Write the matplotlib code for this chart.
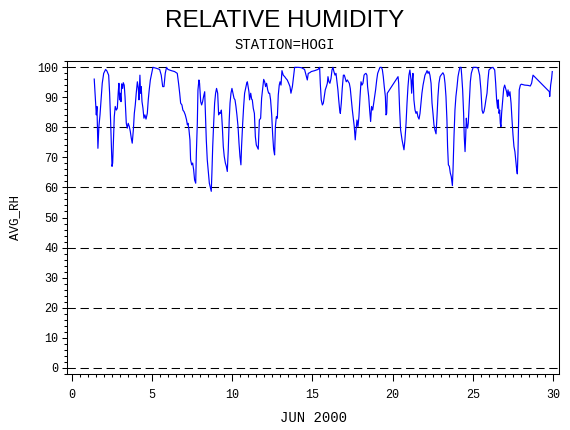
import matplotlib
matplotlib.use("Agg")
import matplotlib.pyplot as plt
from matplotlib.ticker import MultipleLocator

# hourly-ish relative humidity, station HOGI, June 2000
day = [
    1.39, 1.50, 1.52, 1.56, 1.62, 1.68, 1.75, 1.83, 1.89, 1.98,
    2.10, 2.18, 2.29, 2.35, 2.41, 2.50, 2.54, 2.58, 2.64, 2.70,
    2.77, 2.83, 2.89, 2.93, 2.97, 3.01, 3.06, 3.10, 3.16, 3.20,
    3.26, 3.31, 3.39, 3.45, 3.51, 3.58, 3.64, 3.70, 3.76, 3.83,
    3.89, 3.95, 4.01, 4.08, 4.14, 4.18, 4.24, 4.28, 4.32, 4.37,
    4.43, 4.49, 4.55, 4.62, 4.70, 4.76, 4.82, 4.89, 4.95, 5.05,
    5.26, 5.47, 5.57, 5.66, 5.74, 5.82, 5.90,
    5.99, 6.20, 6.40, 6.57, 6.65, 6.72, 6.78, 6.86, 6.92, 6.99,
    7.07, 7.15, 7.20, 7.24, 7.30, 7.36, 7.40, 7.47, 7.53, 7.59,
    7.65, 7.72, 7.76, 7.82, 7.86, 7.92, 7.96, 8.03, 8.09, 8.15,
    8.21, 8.28, 8.32, 8.38, 8.44, 8.51, 8.57, 8.63, 8.69, 8.73,
    8.78, 8.84, 8.90, 8.96, 9.02, 9.09, 9.15, 9.21, 9.27, 9.32,
    9.38, 9.44, 9.50, 9.57, 9.63, 9.69, 9.75, 9.81, 9.86, 9.92,
    9.98, 10.04, 10.11, 10.17, 10.23, 10.29, 10.36, 10.42, 10.48, 10.54,
    10.58, 10.65, 10.71, 10.77, 10.83, 10.90, 10.94,
    11.04, 11.08, 11.15, 11.21, 11.25, 11.31, 11.38, 11.44, 11.50, 11.56,
    11.62, 11.69, 11.77, 11.83, 11.90, 11.96, 12.02, 12.08, 12.14, 12.21,
    12.27, 12.33, 12.39, 12.46, 12.52, 12.58, 12.64, 12.69, 12.75, 12.81,
    12.87, 12.93, 12.98, 13.04, 13.10, 13.18, 13.27, 13.35, 13.43, 13.52,
    13.60, 13.66, 13.75, 13.83, 13.89, 14.10, 14.31, 14.51, 14.60, 14.68,
    14.74, 14.83, 14.93, 15.14, 15.35, 15.45, 15.49, 15.55, 15.62, 15.68,
    15.74, 15.80, 15.87, 15.93,
    15.97, 16.03, 16.09, 16.16, 16.22, 16.28, 16.34, 16.41, 16.47, 16.53,
    16.59, 16.64, 16.70, 16.74, 16.80, 16.86, 16.93, 16.99, 17.05, 17.11,
    17.18, 17.24, 17.30, 17.36, 17.43, 17.49, 17.55, 17.61, 17.67, 17.72,
    17.78, 17.84, 17.90, 17.97, 18.03, 18.09, 18.15, 18.22, 18.28, 18.34,
    18.40, 18.44, 18.51, 18.57, 18.63, 18.69, 18.76, 18.82, 18.88, 18.94,
    19.01, 19.07, 19.15, 19.21, 19.30, 19.36, 19.42, 19.48, 19.55, 19.59,
    19.63, 19.67, 20.34, 20.38, 20.44, 20.50, 20.59, 20.65, 20.71, 20.77,
    20.84, 20.90, 20.96,
    21.02, 21.08, 21.15, 21.19, 21.23, 21.27, 21.33, 21.40, 21.46, 21.52,
    21.58, 21.65, 21.71, 21.77, 21.83, 21.90, 21.96, 22.02, 22.08, 22.15,
    22.21, 22.27, 22.33, 22.40, 22.46, 22.52, 22.58, 22.64, 22.71, 22.77,
    22.83, 22.89, 22.96, 23.02, 23.08, 23.14, 23.21, 23.27, 23.33, 23.39,
    23.43, 23.48, 23.54, 23.60, 23.66, 23.73, 23.77, 23.83, 23.89, 23.95,
    24.02, 24.08, 24.14, 24.20, 24.27, 24.31, 24.37, 24.43, 24.47, 24.52,
    24.56, 24.60, 24.64, 24.68, 24.72, 24.79, 24.85, 24.91, 24.97, 25.03,
    25.22, 25.33, 25.43, 25.51, 25.58, 25.64, 25.70, 25.76, 25.82, 25.89,
    25.95,
    26.01, 26.12, 26.26, 26.37, 26.43, 26.49, 26.55, 26.59, 26.64, 26.68,
    26.72, 26.76, 26.80, 26.87, 26.93, 26.99, 27.05, 27.11, 27.16, 27.20,
    27.26, 27.32, 27.39, 27.45, 27.51, 27.57, 27.63, 27.70, 27.74, 27.78,
    27.82, 27.86, 27.90, 27.97, 28.03, 28.24, 28.45, 28.59, 28.67, 28.76,
    29.78, 29.80, 29.86, 29.92, 29.96,
]
avg_rh = [
    96.0, 85.7, 84.1, 86.9, 73.0, 80.2, 84.1, 90.2, 94.6, 97.9,
    99.2, 98.7, 97.3, 91.3, 82.4, 67.0, 68.1, 74.7, 83.5, 86.9,
    85.7, 86.3, 91.8, 94.6, 89.1, 91.3, 88.5, 94.4, 92.9, 94.8,
    94.0, 90.2, 81.3, 79.7, 81.3, 80.2, 78.6, 76.4, 74.7, 79.1,
    84.6, 87.4, 91.3, 95.1, 92.9, 89.1, 97.3, 91.3, 93.5, 88.5,
    86.3, 83.0, 84.1, 82.7, 84.6, 89.1, 92.4, 95.7, 97.3, 99.9,
    99.6, 99.2, 97.3, 93.5, 93.5, 97.9, 99.9,
    99.2, 98.8, 98.5, 97.9, 94.6, 91.3, 88.0, 87.4, 85.7, 85.2,
    84.1, 82.4, 80.8, 81.3, 79.1, 75.8, 69.2, 67.5, 68.1, 65.9,
    62.5, 61.4, 71.4, 81.3, 92.4, 95.7, 94.6, 88.5, 87.4, 88.5,
    90.2, 91.8, 85.7, 75.8, 69.2, 64.8, 61.4, 60.1, 58.7, 64.8,
    73.6, 81.3, 88.0, 91.3, 92.9, 91.3, 84.1, 84.9, 84.6, 85.7,
    80.2, 73.6, 70.3, 68.1, 67.0, 65.3, 72.5, 82.4, 88.0, 91.3,
    92.9, 91.3, 89.6, 89.1, 86.9, 84.1, 80.2, 74.7, 70.3, 67.5,
    73.6, 81.3, 86.9, 91.3, 92.9, 94.6, 95.1,
    91.8, 89.1, 91.3, 89.3, 89.1, 86.3, 84.6, 76.9, 74.1, 73.4,
    72.7, 82.4, 83.0, 89.6, 92.9, 95.9, 95.1, 93.5, 94.6, 92.4,
    91.3, 91.3, 89.1, 84.1, 77.5, 72.7, 70.8, 80.2, 83.5, 83.0,
    90.7, 94.0, 95.1, 94.0, 98.8, 97.3, 96.8, 96.2, 95.7, 94.6,
    93.5, 91.3, 93.5, 97.3, 99.9, 99.9, 99.8, 99.2, 97.3, 95.7,
    97.9, 98.1, 98.5, 98.8, 99.2, 99.9, 94.6, 89.1, 87.4, 88.0,
    90.2, 92.4, 93.5, 94.6,
    96.8, 95.1, 94.6, 96.2, 99.0, 99.9, 98.5, 97.3, 97.9, 95.1,
    92.4, 89.1, 85.7, 84.6, 88.0, 92.9, 97.3, 97.3, 96.2, 95.1,
    95.7, 95.1, 94.6, 92.9, 89.1, 85.7, 83.0, 80.2, 75.8, 79.1,
    82.4, 80.2, 83.5, 90.2, 95.1, 94.0, 94.6, 97.3, 97.7, 97.9,
    97.3, 93.5, 90.2, 85.7, 81.9, 86.9, 85.7, 88.0, 90.2, 92.4,
    95.7, 97.9, 99.0, 99.9, 99.9, 99.2, 96.8, 93.5, 90.2, 84.1,
    84.6, 91.3, 96.8, 94.6, 85.7, 79.1, 75.8, 74.1, 72.5, 75.8,
    81.3, 88.0, 93.5,
    97.3, 99.0, 95.7, 91.3, 95.7, 97.9, 89.1, 85.7, 84.6, 85.2,
    83.5, 82.7, 84.6, 88.0, 91.3, 94.0, 95.7, 97.3, 97.9, 98.8,
    97.9, 98.5, 97.3, 94.6, 88.0, 84.6, 80.8, 79.1, 77.8, 83.5,
    90.2, 94.6, 96.8, 97.3, 97.7, 98.1, 97.3, 94.6, 90.2, 82.4,
    73.6, 67.5, 67.0, 64.8, 63.6, 60.6, 65.9, 76.9, 85.7, 90.2,
    93.5, 96.8, 98.5, 99.9, 99.9, 97.3, 92.4, 84.6, 76.9, 71.9,
    76.9, 83.0, 80.2, 79.7, 81.3, 89.1, 95.1, 97.9, 99.0, 99.9,
    99.9, 99.6, 97.3, 92.4, 85.7, 84.6, 85.2, 86.9, 89.1, 91.3,
    95.7,
    99.0, 99.6, 99.9, 99.0, 94.6, 89.1, 86.3, 89.1, 84.6, 85.7,
    81.3, 80.2, 84.6, 89.1, 92.9, 94.0, 92.9, 91.8, 90.2, 92.4,
    90.4, 91.8, 88.0, 82.4, 77.5, 73.6, 71.9, 68.1, 65.9, 64.5,
    71.4, 82.4, 92.4, 94.0, 94.3, 94.0, 93.9, 93.7, 94.6, 97.3,
    91.8, 90.2, 94.0, 96.2, 98.5,
]

ref_levels = [0, 20, 40, 60, 80, 100]
x_ticks = [0, 5, 10, 15, 20, 25, 30]
y_ticks = list(range(0, 101, 10))

mono = ["Liberation Mono", "DejaVu Sans Mono"]

fig = plt.figure(figsize=(5.7, 4.3), dpi=100)
ax = fig.add_axes([0.1175, 0.1302, 0.8632, 0.7279])

for lev in ref_levels:
    ax.axhline(lev, color="black", lw=0.75, ls=(0, (8, 4.5)), zorder=1)

ax.plot(day, avg_rh, color="#0000ff", lw=0.85, zorder=2)

ax.set_xlim(-0.31, 30.38)
ax.set_ylim(-2, 102)
ax.set_xticks(x_ticks)
ax.set_yticks(y_ticks)
ax.xaxis.set_minor_locator(MultipleLocator(0.5))
ax.yaxis.set_minor_locator(MultipleLocator(2))

for sp in ax.spines.values():
    sp.set_linewidth(0.75)
    sp.set_color("black")

ax.tick_params(axis="both", which="both", direction="out", width=0.75, colors="black")
ax.tick_params(axis="y", which="major", length=3.6, pad=2.7)
ax.tick_params(axis="x", which="major", length=4.8, pad=6)
ax.tick_params(axis="both", which="minor", length=2.2)
for lab in ax.get_xticklabels() + ax.get_yticklabels():
    lab.set_fontfamily(mono)
    lab.set_fontsize(8.5)

fig.text(285 / 570, 1 - 21 / 430, "RELATIVE HUMIDITY", ha="center", va="center",
         fontsize=17.5, family=["Liberation Sans", "DejaVu Sans"])
fig.text(285 / 570, 1 - 45 / 430, "STATION=HOGI", ha="center", va="center",
         fontsize=10, family=mono)
fig.text(313 / 570, 1 - 418 / 430, "JUN 2000", ha="center", va="center",
         fontsize=10, family=mono)
fig.text(15 / 570, 1 - 217.5 / 430, "AVG_RH", ha="center", va="center",
         rotation=90, fontsize=9, family=mono)

fig.savefig("out.png", dpi=100)
